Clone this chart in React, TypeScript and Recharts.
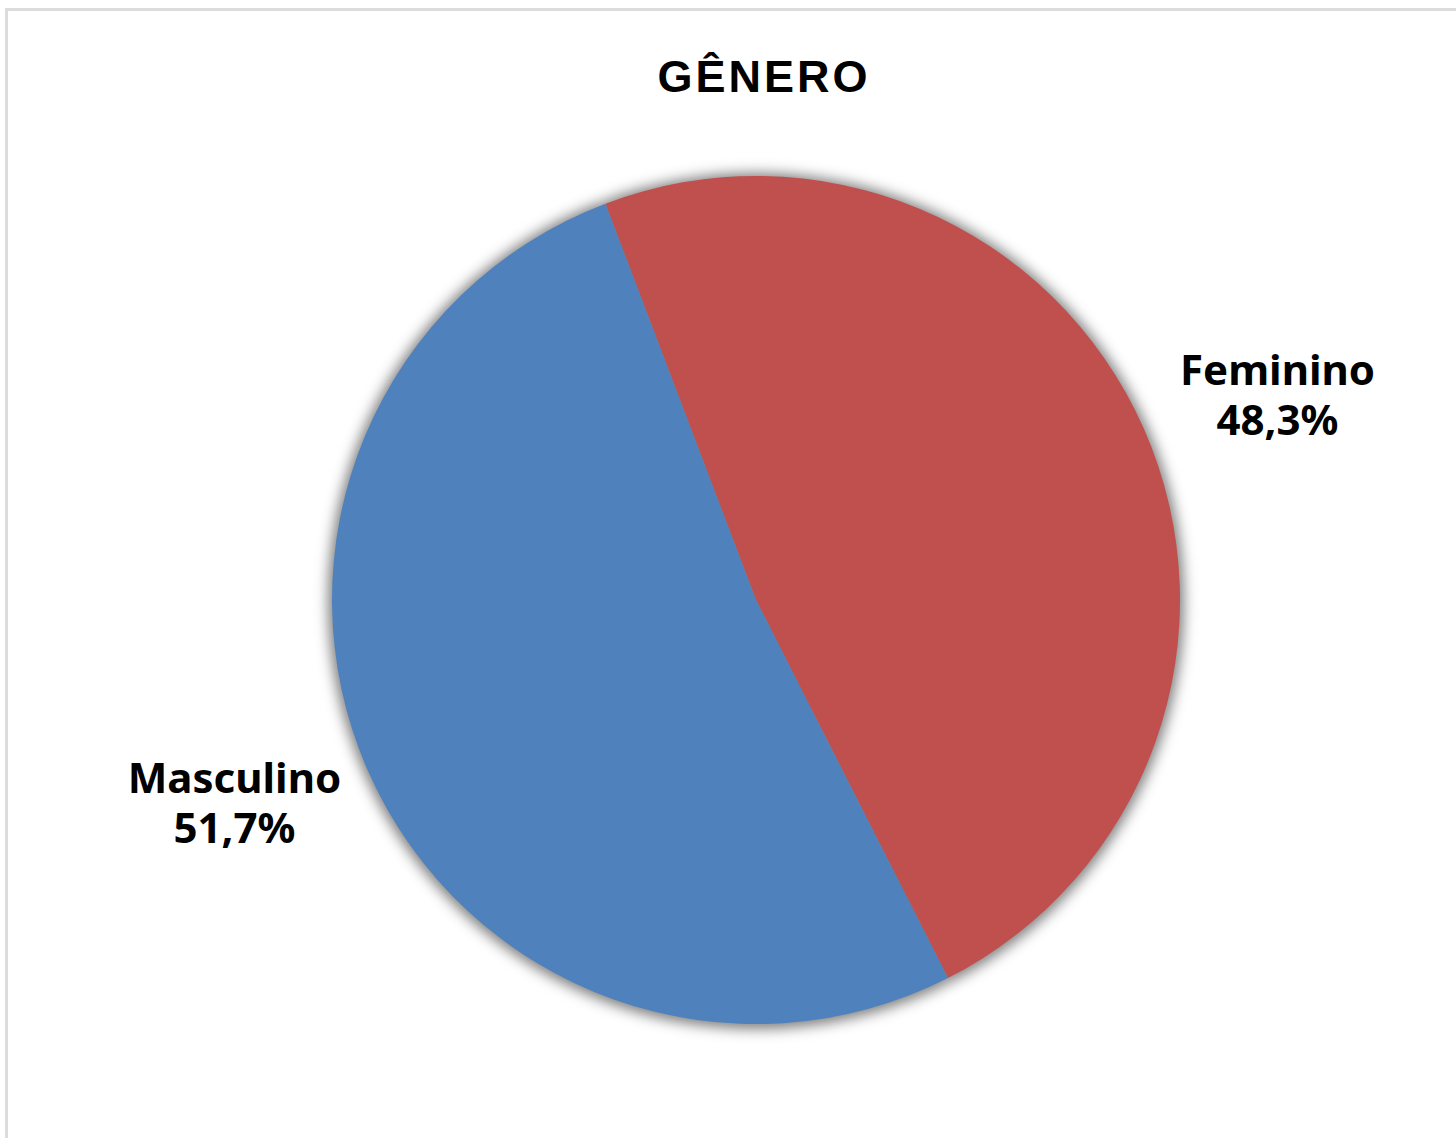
import { PieChart, Pie, Cell } from 'recharts'

const categories = ['Feminino', 'Masculino']
const shares = [48.3, 51.7]
const colors = ['#C0504D', '#4F81BD']

const data = categories.map((name, i) => ({ name, value: shares[i] }))

const RAD = Math.PI / 180
const labelFont = '"Noto Sans", "DejaVu Sans", sans-serif'

function renderLabel(props: any) {
  const { cx, cy, midAngle, outerRadius, name, value } = props
  // labels sit a bit outside the pie, rotated slightly clockwise like Excel places them
  const r = outerRadius + 136
  const a = (midAngle - 2.5) * RAD
  const x = cx + r * Math.cos(a)
  const y = cy - r * Math.sin(a)
  return (
    <text
      x={x}
      y={y}
      textAnchor="middle"
      fill="#000"
      fontFamily={labelFont}
      fontWeight="bold"
      fontSize={42}
    >
      <tspan x={x} dy={-11}>{name}</tspan>
      <tspan x={x} dy={50}>{value.toFixed(1).replace('.', ',')}%</tspan>
    </text>
  )
}

export default function App() {
  return (
    <div style={{ position: 'absolute', left: 0, top: 0, width: 1456, height: 1138, background: '#fff', overflow: 'hidden' }}>
      <style>{`.pie-shadow { filter: blur(5px); }`}</style>
      <div
        style={{
          position: 'absolute',
          left: 5,
          top: 8,
          width: 1480,
          height: 1160,
          boxSizing: 'border-box',
          border: '3px solid #dcdcdc',
        }}
      />
      <div
        style={{
          position: 'absolute',
          left: 0,
          width: 1528,
          top: 50,
          textAlign: 'center',
          fontFamily: '"Liberation Sans", Arial, sans-serif',
          fontWeight: 'bold',
          fontSize: 45,
          letterSpacing: 3,
          lineHeight: '54px',
          color: '#000',
        }}
      >
        GÊNERO
      </div>
      <div style={{ position: 'absolute', left: 0, top: 0 }}>
        <PieChart width={1456} height={1138} margin={{ top: 0, right: 0, bottom: 0, left: 0 }}>
          <Pie
            className="pie-shadow"
            data={data}
            dataKey="value"
            nameKey="name"
            cx={756}
            cy={601}
            outerRadius={428}
            startAngle={110.8}
            endAngle={-249.2}
            stroke="none"
            fill="#000"
            fillOpacity={0.5}
            isAnimationActive={false}
          />
          <Pie
            data={data}
            dataKey="value"
            nameKey="name"
            cx={756}
            cy={600}
            outerRadius={424}
            startAngle={110.8}
            endAngle={-249.2}
            stroke="none"
            label={renderLabel}
            labelLine={false}
            isAnimationActive={false}
          >
            {data.map((d, i) => (
              <Cell key={d.name} fill={colors[i]} />
            ))}
          </Pie>
        </PieChart>
      </div>
    </div>
  )
}
